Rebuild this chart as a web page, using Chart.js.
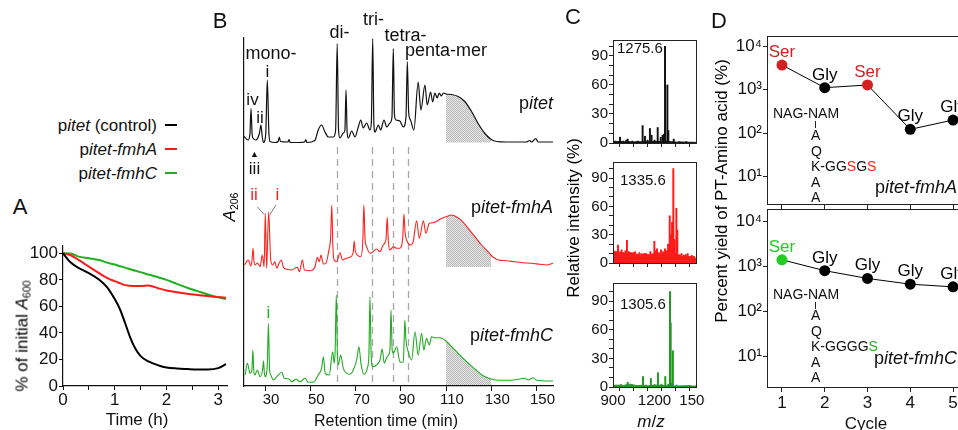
<!DOCTYPE html>
<html lang="en">
<head>
<meta charset="UTF-8">
<title>pitet / fmhA / fmhC</title>
<script src="https://cdn.jsdelivr.net/npm/chart.js"></script>
<style>
  body { margin: 0; width: 958px; height: 430px; position: relative; overflow: hidden; background: #fff;
         font-family: "Liberation Sans", Arial, sans-serif; color: #111; }
  .panel { position: absolute; }
  .tx { position: absolute; white-space: nowrap; line-height: 1; transform: translate(-50%, -50%); }
  .tl { transform: translate(0, -50%); }
  .tr { transform: translate(-100%, -50%); }
  .rot { transform: translate(-50%, -50%) rotate(-90deg); }
  .sub { font-size: 0.62em; position: relative; top: 0.3em; }
  .letter { font-size: 22px; }
  .red { color: #ff2020; }
  .grn { color: #22b022; }
  .vl { position: absolute; width: 1px; background: #222; }
  .leg { position: absolute; height: 2px; width: 12px; }
</style>
</head>
<body>
<div class="panel" style="left:0;top:230px;width:240px;height:200px"><canvas id="chartA"></canvas></div>
<div class="panel" style="left:200px;top:0;width:365px;height:430px"><canvas id="chartB"></canvas></div>
<div class="panel" style="left:560px;top:30px;width:145px;height:125px"><canvas id="chartC1"></canvas></div>
<div class="panel" style="left:560px;top:152px;width:145px;height:120px"><canvas id="chartC2"></canvas></div>
<div class="panel" style="left:560px;top:273px;width:145px;height:157px"><canvas id="chartC3"></canvas></div>
<div class="panel" style="left:700px;top:0;width:280px;height:215px"><canvas id="chartD1"></canvas></div>
<div class="panel" style="left:700px;top:200px;width:280px;height:230px"><canvas id="chartD2"></canvas></div>

<!-- panel A text -->
<div class="tx tr" style="left:157px;top:125px;font-size:17px">p<i>itet</i> (control)</div>
<div class="tx tr" style="left:157px;top:149px;font-size:17px">p<i>itet-fmhA</i></div>
<div class="tx tr" style="left:157px;top:173px;font-size:17px">p<i>itet-fmhC</i></div>
<div class="leg" style="left:165px;top:124px;background:#000"></div>
<div class="leg" style="left:165px;top:148px;background:#ff1a1a"></div>
<div class="leg" style="left:165px;top:172px;background:#1fb01f"></div>
<div class="tx letter" style="left:20px;top:207px">A</div>
<div class="tx rot" style="left:22px;top:336px;font-size:17px;color:#000">% of initial <i>A</i><span class="sub">600</span></div>
<div class="tx" style="left:137px;top:419px;font-size:17px">Time (h)</div>

<!-- panel B text -->
<div class="tx letter" style="left:220px;top:21px">B</div>
<div class="tx rot" style="left:229px;top:207px;font-size:17px;color:#000"><i>A</i><span class="sub">206</span></div>
<div class="tx" style="left:271px;top:53px;font-size:18px">mono-</div>
<div class="tx" style="left:267.5px;top:71px;font-size:17px">i</div>
<div class="tx" style="left:252.5px;top:99px;font-size:17px">iv</div>
<div class="tx" style="left:260px;top:117px;font-size:17px">ii</div>
<div class="tx" style="left:254.5px;top:154px;font-size:9px">&#9650;</div>
<div class="tx" style="left:254.5px;top:168px;font-size:17px">iii</div>
<div class="tx" style="left:339.5px;top:32px;font-size:18px">di-</div>
<div class="tx" style="left:373.5px;top:18.5px;font-size:18px">tri-</div>
<div class="tx" style="left:405.5px;top:34.5px;font-size:18px">tetra-</div>
<div class="tx" style="left:446px;top:49.5px;font-size:18px">penta-mer</div>
<div class="tx tr" style="left:553px;top:103px;font-size:18px">p<i>itet</i></div>
<div class="tx red" style="left:254px;top:194px;font-size:17px">ii</div>
<div class="tx red" style="left:277.5px;top:194px;font-size:17px">i</div>
<svg class="panel" style="left:0;top:0" width="600" height="430">
  <line x1="257.3" y1="206.7" x2="264" y2="214.3" stroke="#777" stroke-width="1"/>
  <line x1="276" y1="205" x2="270" y2="214.3" stroke="#777" stroke-width="1"/>
</svg>
<div class="tx tr" style="left:553px;top:207px;font-size:18px">p<i>itet-fmhA</i></div>
<div class="tx grn" style="left:268.5px;top:311.5px;font-size:17px">i</div>
<div class="tx tr" style="left:553px;top:335px;font-size:18px">p<i>itet-fmhC</i></div>
<div class="tx" style="left:386px;top:421px;font-size:16px">Retention time (min)</div>

<!-- panel C text -->
<div class="tx letter" style="left:573px;top:17px">C</div>
<div class="tx tl" style="left:617px;top:47px;font-size:15px">1275.6</div>
<div class="tx tl" style="left:620px;top:179px;font-size:15px">1335.6</div>
<div class="tx tl" style="left:620px;top:303px;font-size:15px">1305.6</div>
<div class="tx rot" style="left:573px;top:218px;font-size:17px;color:#000">Relative intensity (%)</div>
<div class="tx" style="left:651px;top:421px;font-size:17px"><i>m</i>/<i>z</i></div>

<!-- panel D text -->
<div class="tx letter" style="left:719px;top:21px">D</div>
<div class="tx rot" style="left:721px;top:191px;font-size:17px;color:#000">Percent yield of PT-Amino acid (%)</div>
<div class="tx" style="left:866px;top:423px;font-size:17px">Cycle</div>
<div class="tx tl" style="left:773px;top:113px;font-size:14px">NAG-NAM</div>
<div class="vl" style="left:815px;top:121px;height:7px"></div>
<div class="tx tl" style="left:811px;top:135px;font-size:14px">A</div>
<div class="tx tl" style="left:811px;top:150.5px;font-size:14px">Q</div>
<div class="tx tl" style="left:811px;top:166px;font-size:14px">K-GG<span class="red">S</span>G<span class="red">S</span></div>
<div class="tx tl" style="left:811px;top:181.5px;font-size:14px">A</div>
<div class="tx tl" style="left:811px;top:197px;font-size:14px">A</div>
<div class="tx tr" style="left:957px;top:187px;font-size:18px">p<i>itet-fmhA</i></div>
<div class="tx tl" style="left:773px;top:294px;font-size:14px">NAG-NAM</div>
<div class="vl" style="left:815px;top:302px;height:7px"></div>
<div class="tx tl" style="left:811px;top:315px;font-size:14px">A</div>
<div class="tx tl" style="left:811px;top:330.5px;font-size:14px">Q</div>
<div class="tx tl" style="left:811px;top:346px;font-size:14px">K-GGGG<span class="grn">S</span></div>
<div class="tx tl" style="left:811px;top:361.5px;font-size:14px">A</div>
<div class="tx tl" style="left:811px;top:377px;font-size:14px">A</div>
<div class="tx tr" style="left:957px;top:358px;font-size:18px">p<i>itet-fmhC</i></div>

<script>
// ---- A: lysis curves (% of initial A600) ----
const growthTime = [0, 0.15, 0.3, 0.5, 0.7, 0.85, 1.0, 1.1, 1.2, 1.3, 1.4, 1.5, 1.65, 1.85, 2.0, 2.2, 2.4, 2.6, 2.8, 3.0, 3.15];
const ctrlGrowth = [100, 93, 89, 85, 80, 74.5, 65.5, 58, 47.5, 36.5, 28, 22.5, 18.5, 15.5, 14, 13.2, 12.8, 12.5, 12.5, 13.5, 16.5];
const fmhAGrowth = [100, 98.5, 95, 90, 85, 81.5, 79, 77.5, 76, 75.5, 75.3, 75.3, 75.8, 73.5, 72, 70.7, 69.5, 68.6, 67.8, 67, 66.5];
const fmhCGrowth = [100, 99.8, 97.5, 96.3, 95, 93, 91.5, 90.3, 89.2, 88, 86.8, 85.8, 84, 81.8, 80, 77, 74, 71.5, 69, 66.8, 65.5];
const timeTicks = [0, 0.5, 1, 1.5, 2, 2.5, 3];
const pctTicks = [0, 20, 40, 60, 80, 100];

// ---- B: chromatograms (retention time in min, A206 height above each trace baseline) ----
const ctrlRt = [20.7, 22.5, 23.3, 23.8, 24.3, 24.8, 25.9, 27.5, 28.2, 28.8, 29.3, 30.3, 31.0, 31.7, 32.2, 34.5, 35.8, 36.3, 36.8, 40.1, 40.6, 41.1, 45, 47.5, 48, 48.5, 52, 53.5, 55, 56.5, 58, 60.2, 61.2, 61.9, 62.5, 63.1, 64.6, 65.3, 65.8, 66.3, 66.8, 68.3, 69.8, 71.2, 72.3, 73.4, 74.9, 76.4, 77.0, 77.6, 78.1, 78.6, 80.1, 81.1, 82.6, 83.8, 85.2, 86.1, 86.7, 87.2, 87.9, 89.6, 91.1, 92.3, 92.9, 93.5, 94.3, 95.8, 97.7, 98.9, 100.7, 101.7, 103.2, 104.1, 105.1, 106.1, 107.0, 107.9, 108.8, 110.0, 112.5, 115.4, 118.3, 121.3, 124.2, 127.2, 130.0, 132.3, 136.7, 145.5, 147.0, 147.8, 149.7, 150.7, 155.1, 157.3];
const ctrlA206 = [6, 2.5, 8, 34, 8, 4, 2.5, 9, 17.5, 5, 0, 8, 62.5, 10, 1, 0, 1, 5.5, 1, 0.5, 3, 0, 0, 0.5, 3, 0, 2, 12.5, 17.5, 10.5, 5.5, 5.5, 12, 99, 12, 4.5, 9.5, 12, 52.5, 10, 4.5, 11.5, 5.5, 15.5, 22.5, 14.5, 19.5, 12.5, 20, 104, 20, 10.5, 17.5, 12.5, 22.5, 15.5, 19.5, 25, 94, 28, 22.5, 21.5, 15.5, 25, 81, 30, 22.5, 12.5, 60.5, 32.5, 57.5, 37.5, 50.5, 40.5, 49.5, 44.5, 49.5, 46.5, 49.5, 48.5, 48, 46, 41, 31, 19, 9, 3, 1, 0.5, 0.5, 2, 0.5, 3.8, 0.5, 0.5, 0.5];

const fmhART = [20.9, 22.6, 23.7, 24.3, 24.7, 25.1, 25.6, 26.6, 27.8, 28.8, 29.6, 30.1, 30.7, 31.6, 32.5, 33.4, 34.3, 35.2, 36.2, 37.2, 38.1, 39.6, 41.8, 44.3, 45.2, 46.5, 47.4, 49.9, 52.1, 53.1, 54.0, 54.7, 55.8, 56.9, 58.1, 59.0, 59.5, 60.0, 60.5, 61.7, 63.1, 64.3, 65.8, 67.5, 69.0, 69.4, 69.9, 70.8, 72.3, 73.2, 73.7, 74.2, 74.9, 76.4, 77.8, 79.3, 80.8, 82.2, 83.5, 84.0, 84.5, 85.2, 86.7, 88.2, 89.6, 90.9, 91.4, 91.9, 92.9, 94.4, 95.5, 97.0, 98.2, 100.0, 101.1, 102.6, 104.1, 105.5, 107.3, 110.0, 112.5, 113.9, 116.9, 119.8, 122.8, 125.7, 128.6, 130.0, 130.9, 133.1, 136.7, 140.4, 144.1, 147.8, 151.5, 154.4, 157.3];
const fmhAA206 = [2, 7, 1, 8, 18.7, 6, 2, 4, 0.3, 12, 0.3, 53.7, -1.3, 55.3, 7, 2, 5.3, -1.3, 3.7, 7, -0.3, -2.3, -3, -0.3, -4.7, 7, -3, -3.7, 0.3, 9.7, 5.3, 12, 3, 3.7, 15.3, 30, 62, 20, 7, 5.3, 14.3, 7, 8.7, 9.7, 15, 26, 16, 12, 10.3, 25, 62, 28, 20.3, 13.7, 15.3, 18, 15.3, 22, 28, 49.7, 26, 17, 20.3, 18.7, 18.7, 30, 53, 35, 25.3, 22, 25.3, 46.3, 28.7, 46.3, 33.7, 43.7, 44.3, 45.3, 47.7, 50.3, 52, 51, 46.3, 38.7, 30.3, 22, 15.3, 11.5, 9.7, 7, 6.3, 5.3, 4.3, 3.7, 2.7, 2, 3.7];

const fmhCRT = [21.2, 22.2, 23.4, 24.2, 24.6, 25.0, 25.5, 26.6, 27.8, 28.9, 29.3, 29.7, 30.1, 31.0, 31.5, 32.0, 32.5, 33.7, 35.2, 37.4, 38.5, 40.6, 41.8, 43.7, 45.5, 47.7, 49.1, 51.3, 53.5, 55.0, 55.8, 56.6, 58.4, 59.9, 60.6, 61.0, 61.5, 62.0, 62.4, 63.4, 64.6, 66.1, 67.5, 69.0, 70.5, 71.5, 72.4, 73.7, 75.2, 75.9, 76.4, 76.9, 77.6, 79.3, 80.8, 81.8, 82.7, 84.0, 85.2, 85.7, 86.2, 86.7, 88.2, 89.6, 91.1, 91.5, 91.8, 92.3, 93.3, 94.8, 96.3, 97.7, 99.2, 100.2, 101.4, 102.6, 103.6, 105.1, 107.3, 110.0, 112.5, 115.4, 119.1, 122.8, 126.4, 130.0, 133.8, 139.7, 144.8, 146.3, 148.5, 150.0, 155.9, 157.3];
const fmhCA206 = [10, 21.7, 11.7, 15, 35, 15, 10, 15, 8.3, 15, 24, 12, 8.3, 20, 61.7, 15, 10, 5, 8.3, 12.7, 6.7, 6, 3.3, 5.7, 3.3, 6.7, 2.7, 2.7, 10, 16.7, 28.3, 11.7, 10, 33.3, 21.7, 35, 90, 30, 20, 30, 16.7, 11.7, 10.7, 15, 25, 38.3, 21.7, 10.7, 16.7, 30, 88.3, 30, 18.3, 20, 25, 36, 21.7, 28.3, 35, 75, 35, 31.7, 38.3, 23.3, 22.7, 45, 65, 45, 33.3, 25, 53.3, 30, 51.7, 35, 46.7, 40, 48.3, 47.3, 47.3, 44, 38.3, 31.7, 23.3, 16, 9.3, 6, 4.7, 5, 6.7, 5, 7.3, 4.7, 4, 4];

const rtTicks = [30, 50, 70, 90, 110, 130, 150];
const merMarkers = [61.8, 77.4, 86.7, 93.3];   // di-, tri-, tetra-, penta-mer
const hatchWindow = [110, 130];

// ---- C: MS spectra (m/z, relative intensity %) ----
const floorMz = [900, 925, 950, 975, 1000, 1025, 1050, 1075, 1100, 1125, 1150, 1175, 1200, 1225, 1250, 1275, 1300, 1325, 1350, 1375, 1400, 1425, 1450, 1475, 1500];
const ctrlFloor = [1.5, 1.2, 1.8, 1.0, 1.5, 1.2, 1.0, 1.4, 1.2, 1.6, 1.1, 1.3, 1.5, 1.8, 1.2, 2.0, 1.5, 1.2, 1.0, 0.8, 1.0, 0.8, 0.7, 0.8, 0.6];
const fmhAFloor = [11, 12, 10, 11, 9, 10, 11, 9, 8, 10, 9, 8, 9, 10, 8, 9, 11, 12, 10, 8, 7, 8, 6, 7, 5];
const fmhCFloor = [1.5, 1.8, 2, 1.5, 2.5, 3, 2, 1.5, 1.8, 1.5, 1.2, 1.5, 1.8, 2, 1.5, 1.5, 1.5, 1.2, 1, 1, 1.2, 1, 1.5, 1, 1];
const ctrlMz = [918, 951, 975, 997, 1006, 1040, 1080, 1114, 1131, 1150, 1167, 1179, 1200, 1223, 1245, 1259, 1268, 1276, 1293, 1300, 1339, 1380, 1430];
const ctrlInt = [2, 6, 2, 3, 4, 2, 2, 18, 7, 3, 15, 8, 3, 16, 6, 8, 9, 100, 60, 13, 4, 1.5, 1.5];
const fmhAMz = [905, 915, 924, 936, 948, 962, 975, 990, 1001, 1015, 1030, 1045, 1060, 1075, 1090, 1105, 1120, 1138, 1155, 1170, 1185, 1199, 1210, 1218, 1232, 1247, 1262, 1276, 1290, 1298, 1310, 1318, 1327, 1336, 1345, 1358, 1365, 1380, 1395, 1410, 1425, 1440, 1455, 1470, 1485];
const fmhAInt = [13, 12, 11, 19, 12, 14, 11, 13, 24, 12, 11, 10, 12, 9, 11, 10, 9, 10, 8, 12, 10, 23, 13, 15, 11, 14, 12, 15, 13, 20, 50, 30, 43, 100, 25, 58, 35, 9, 10, 8, 9, 10, 7, 8, 7];
const fmhCMz = [920, 960, 1006, 1040, 1117, 1140, 1174, 1200, 1225, 1250, 1278, 1300, 1312, 1317, 1325, 1333, 1360, 1420];
const fmhCInt = [2, 2.5, 5, 2, 11, 2, 9, 2.5, 15, 3, 11, 3, 100, 67, 4, 38, 2, 1.5];
const mzTicks = [900, 1000, 1100, 1200, 1300, 1400, 1500];
const mzLabels = [900, 1200, 1500];
const intTicks = [0, 10, 20, 30, 40, 50, 60, 70, 80, 90, 100];
const intLabels = [0, 30, 60, 90];

// ---- D: Edman cycles ----
const cycles = [1, 2, 3, 4, 5];
const fmhAYield = [3660, 1105, 1275, 122, 200];
const fmhCYield = [1415, 812, 545, 407, 355];
const fmhAResidue = ['Ser', 'Gly', 'Ser', 'Gly', 'Gly'];
const fmhCResidue = ['Ser', 'Gly', 'Gly', 'Gly', 'Gly'];
const yieldTicks = [10, 100, 1000, 10000];

Chart.defaults.font.family = '"Liberation Sans", Arial, sans-serif';
Chart.defaults.color = '#111';
Chart.defaults.animation = false;
Chart.defaults.events = [];
Chart.defaults.maintainAspectRatio = false;
Chart.defaults.plugins.legend.display = false;
Chart.defaults.plugins.tooltip.enabled = false;

const pts = (xs, ys, off = 0) => xs.map((x, i) => ({ x: x, y: ys[i] + off }));
// fixed axis sizes so the plot areas land where the figure has them
const axisY = w => s => { s.width = w; s.paddingTop = 0; s.paddingBottom = 0; };
const axisX = h => s => { s.height = h; s.paddingLeft = 0; s.paddingRight = 0; };
const setTicks = vals => s => { s.ticks = vals.map(v => ({ value: v })); };
const sup = { 1: '\u00b9', 2: '\u00b2', 3: '\u00b3', 4: '\u2074' };

function hatchPattern() {
    const c = document.createElement('canvas');
    c.width = 2; c.height = 2;
    const g = c.getContext('2d');
    g.fillStyle = '#e6e6e6'; g.fillRect(0, 0, 2, 2);
    g.fillStyle = '#b9b9b9'; g.fillRect(0, 0, 1, 1); g.fillRect(1, 1, 1, 1);
    return g.createPattern(c, 'repeat');
}

const frame = {
    id: 'frame',
    afterDraw(chart) {
        const { ctx, chartArea: a } = chart;
        ctx.save();
        ctx.strokeStyle = '#222';
        ctx.lineWidth = 1;
        ctx.strokeRect(Math.round(a.left) + 0.5, Math.round(a.top) + 0.5, Math.round(a.width), Math.round(a.height));
        ctx.restore();
    }
};

const markerLines = {
    id: 'markerLines',
    beforeDatasetsDraw(chart) {
        const { ctx, scales: { x, y } } = chart;
        ctx.save();
        ctx.strokeStyle = '#a8a8a8';
        ctx.lineWidth = 1.3;
        ctx.setLineDash([7, 5]);
        merMarkers.forEach(m => {
            const px = Math.round(x.getPixelForValue(m)) + 0.5;
            ctx.beginPath();
            ctx.moveTo(px, y.getPixelForValue(239));
            ctx.lineTo(px, y.getPixelForValue(0));
            ctx.stroke();
        });
        ctx.restore();
    }
};

const residueLabels = {
    id: 'residueLabels',
    afterDatasetsDraw(chart, args, opts) {
        const { ctx } = chart;
        const meta = chart.getDatasetMeta(0);
        ctx.save();
        ctx.font = '17px "Liberation Sans", Arial, sans-serif';
        ctx.textAlign = 'center';
        ctx.textBaseline = 'alphabetic';
        meta.data.forEach((pt, i) => {
            ctx.fillStyle = opts.colors[i];
            ctx.fillText(opts.labels[i], pt.x, pt.y - 8);
        });
        ctx.restore();
    }
};

// ---------- A ----------
function growthLine(ys, color) {
    return { data: pts(growthTime, ys), borderColor: color, borderWidth: 2, pointRadius: 0,
             tension: 0.4, cubicInterpolationMode: 'monotone' };
}
new Chart(document.getElementById('chartA'), {
    type: 'line',
    data: { datasets: [growthLine(ctrlGrowth, '#000'), growthLine(fmhAGrowth, '#ff1a1a'), growthLine(fmhCGrowth, '#1fb01f')] },
    options: {
        layout: { padding: { top: 16, right: 13, left: 0, bottom: 0 } },
        scales: {
            x: { type: 'linear', min: 0, max: 3.17, afterBuildTicks: setTicks(timeTicks), afterFit: axisX(44),
                 grid: { drawOnChartArea: false, tickLength: 4, color: '#111' }, border: { color: '#111', width: 1.2 },
                 ticks: { font: { size: 17 }, padding: 0, autoSkip: false, maxRotation: 0,
                          callback: v => Number.isInteger(v) ? v : '' } },
            y: { type: 'linear', min: 0, max: 105.5, afterBuildTicks: setTicks(pctTicks), afterFit: axisY(63),
                 grid: { drawOnChartArea: false, tickLength: 4, color: '#111' }, border: { color: '#111', width: 1.2 },
                 ticks: { font: { size: 17 }, padding: 1, autoSkip: false } }
        }
    }
});

// ---------- B ----------
const bOffset = { ctrl: 243.5, fmhA: 119, fmhC: 1 };
const pattern = hatchPattern();
function trace(t, h, off, color, w) {
    return { data: pts(t, h, off), borderColor: color, borderWidth: w, pointRadius: 0,
             cubicInterpolationMode: 'monotone', order: 1 };
}
function hatch(t, h, off) {
    return { data: pts(t, h, off).filter(p => p.x >= hatchWindow[0] && p.x <= hatchWindow[1]),
             borderWidth: 0, pointRadius: 0, cubicInterpolationMode: 'monotone',
             fill: { value: off }, backgroundColor: pattern, order: 2 };
}
new Chart(document.getElementById('chartB'), {
    type: 'line',
    data: { datasets: [
        trace(ctrlRt, ctrlA206, bOffset.ctrl, '#111', 1.2),
        trace(fmhART, fmhAA206, bOffset.fmhA, '#ff2020', 1.1),
        trace(fmhCRT, fmhCA206, bOffset.fmhC, '#22aa22', 1.1),
        hatch(ctrlRt, ctrlA206, bOffset.ctrl),
        hatch(fmhART, fmhAA206, bOffset.fmhA),
        hatch(fmhCRT, fmhCA206, bOffset.fmhC)
    ] },
    options: {
        layout: { padding: { top: 38, right: 12, left: 0, bottom: 0 } },
        scales: {
            x: { type: 'linear', min: 20.7, max: 157.3, afterBuildTicks: setTicks(rtTicks), afterFit: axisX(44),
                 grid: { drawOnChartArea: false, tickLength: 5, color: '#111' }, border: { color: '#111', width: 1.2 },
                 ticks: { font: { size: 15 }, padding: 0, autoSkip: false, maxRotation: 0, labelOffset: 6 } },
            y: { type: 'linear', min: 0, max: 348, afterFit: axisY(44),
                 grid: { display: false }, border: { color: '#111', width: 1.2 }, ticks: { display: false } }
        }
    },
    plugins: [markerLines]
});

// ---------- C ----------
function spectrum(id, mz, inten, floor, color, ymax, padTop, xHeight, showX) {
    return new Chart(document.getElementById(id), {
        type: 'bar',
        data: { datasets: [
            { type: 'bar', data: pts(mz, inten), backgroundColor: color, barThickness: 1.3, order: 1 },
            { type: 'line', data: pts(floorMz, floor), borderColor: color, borderWidth: 1, backgroundColor: color,
              fill: 'origin', pointRadius: 0, tension: 0, order: 2 }
        ] },
        options: {
            layout: { padding: { top: padTop, right: 9, left: 0, bottom: 0 } },
            scales: {
                x: { type: 'linear', offset: false, min: 900, max: 1500, afterBuildTicks: setTicks(mzTicks), afterFit: axisX(xHeight),
                     grid: { drawOnChartArea: false, tickLength: 4, color: '#222' }, border: { color: '#222' },
                     ticks: { font: { size: 15 }, padding: 1, autoSkip: false, maxRotation: 0,
                              callback: v => (showX && mzLabels.includes(v)) ? v : '' } },
                y: { type: 'linear', min: 0, max: ymax, afterBuildTicks: setTicks(intTicks), afterFit: axisY(53),
                     grid: { drawOnChartArea: false, tickLength: 4, color: '#222' }, border: { color: '#222' },
                     ticks: { font: { size: 15 }, padding: 1, autoSkip: false,
                              callback: v => intLabels.includes(v) ? v : '' } }
            }
        },
        plugins: [frame]
    });
}
spectrum('chartC1', ctrlMz, ctrlInt, ctrlFloor, '#111', 106.5, 10, 12, false);
spectrum('chartC2', fmhAMz, fmhAInt, fmhAFloor, '#ff1a1a', 107, 10, 9, false);
spectrum('chartC3', fmhCMz, fmhCInt, fmhCFloor, '#1e9a1e', 109, 10, 43, true);

// ---------- D ----------
function yieldChart(id, yields, residues, serColor, ymin, ymax, padTop, xHeight, showX) {
    const colors = residues.map(r => r === 'Ser' ? serColor : '#000');
    return new Chart(document.getElementById(id), {
        type: 'line',
        data: { datasets: [{ data: pts(cycles, yields), borderColor: '#000', borderWidth: 1, tension: 0,
                             pointRadius: 5.5, pointBorderWidth: 0, pointBackgroundColor: colors }] },
        options: {
            layout: { padding: { top: padTop, right: 12, left: 0, bottom: 0 } },
            plugins: { residueLabels: { labels: residues, colors: colors } },
            scales: {
                x: { type: 'linear', min: 0.65, max: 5.35, afterBuildTicks: setTicks(cycles), afterFit: axisX(xHeight),
                     grid: { drawOnChartArea: false, tickLength: 5, color: '#222' }, border: { color: '#222' },
                     ticks: { font: { size: 17 }, padding: 1, autoSkip: false, maxRotation: 0,
                              callback: v => showX ? v : '' } },
                y: { type: 'logarithmic', min: ymin, max: ymax, afterBuildTicks: setTicks(yieldTicks), afterFit: axisY(67),
                     grid: { drawOnChartArea: false, tickLength: 4, color: '#222' }, border: { color: '#222' },
                     ticks: { font: { size: 17 }, padding: 1, autoSkip: false,
                              callback: v => '10' + sup[Math.round(Math.log10(v))] } }
            }
        },
        plugins: [frame, residueLabels]
    });
}
yieldChart('chartD1', fmhAYield, fmhAResidue, '#d42020', 2.36, 16980, 36, 11, false);
yieldChart('chartD2', fmhCYield, fmhCResidue, '#22cc22', 2.12, 19010, 9, 43, true);
</script>
</body>
</html>
